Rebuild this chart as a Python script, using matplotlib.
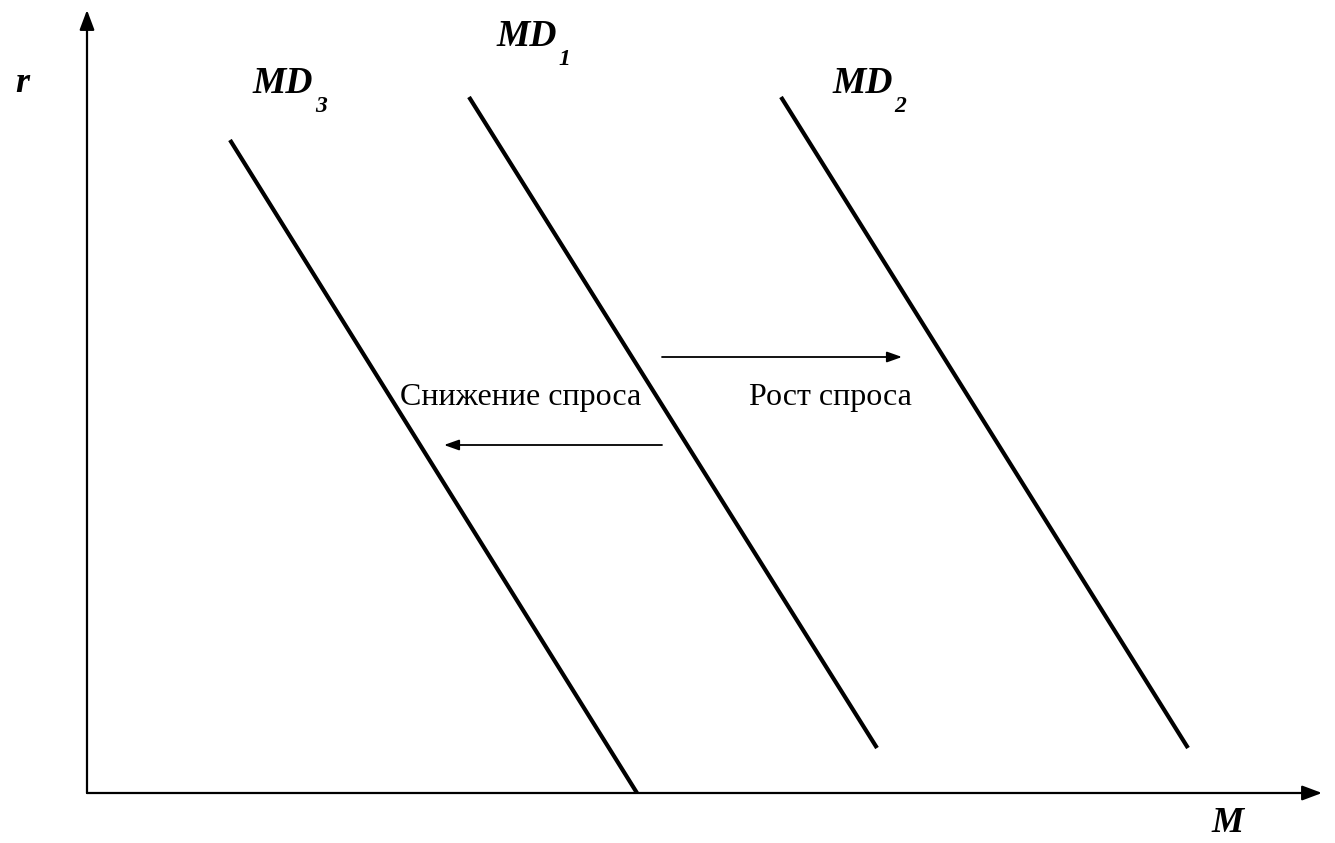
"""Money demand shift diagram: MD1 with MD2 (demand rises) and MD3 (demand falls)."""

import matplotlib

matplotlib.use("Agg")
import matplotlib.pyplot as plt  # noqa: E402

# Canvas in pixel units (y grows downward, like the source picture).
W, H = 1335, 843

# Demand curves: top end and bottom end of each straight line.
curve_names = ["3", "1", "2"]
curve_x0 = [230, 469, 781]
curve_y0 = [140, 97, 97]
curve_x1 = [637, 877, 1188]
curve_y1 = [793, 748, 748]
label_x = [253, 497, 832]
label_y = [93, 46, 93]

# Axes origin and arrow tips.
origin = (87, 793)
y_tip = (87, 10)
x_tip = (1322, 793)

# Shift arrows (start -> end) and their captions.
shift_start = [(662, 357), (662, 445)]
shift_end = [(902, 357), (444, 445)]
shift_text = ["Рост спроса", "Снижение спроса"]
shift_text_xy = [(830, 397), (521, 397)]

SERIF = ["Liberation Serif", "DejaVu Serif"]


def arrow(ax, start, end, lw, hl, hw):
    ax.annotate("", xy=end, xytext=start,
                arrowprops=dict(arrowstyle=f"-|>,head_length={hl},head_width={hw}",
                                lw=lw, color="black", mutation_scale=1,
                                shrinkA=0, shrinkB=0))


def main() -> None:
    fig = plt.figure(figsize=(W / 100, H / 100), dpi=100)
    ax = fig.add_axes([0, 0, 1, 1])
    ax.set_xlim(0, W)
    ax.set_ylim(H, 0)
    ax.axis("off")

    # axes
    arrow(ax, origin, y_tip, 1.6, 12, 4.5)
    arrow(ax, origin, x_tip, 1.6, 12, 4.5)
    ax.text(22, 92, "r", fontsize=26, family=SERIF, fontweight="bold",
            fontstyle="italic", ha="center", va="baseline")
    ax.text(1228, 832, "M", fontsize=26, family=SERIF, fontweight="bold",
            fontstyle="italic", ha="center", va="baseline")

    # demand curves + labels with subscripts
    for n, x0, y0, x1, y1, lx, ly in zip(curve_names, curve_x0, curve_y0,
                                         curve_x1, curve_y1, label_x, label_y):
        ax.plot([x0, x1], [y0, y1], color="black", lw=3.0, solid_capstyle="butt")
        t = ax.text(lx, ly, "MD", fontsize=27, family=SERIF, fontweight="bold",
                    fontstyle="italic", ha="left", va="baseline")
        ax.annotate(n, xy=(1, 0), xycoords=t, xytext=(1, -8),
                    textcoords="offset points", fontsize=17, family=SERIF,
                    fontweight="bold", fontstyle="italic", ha="left", va="baseline")

    # shift arrows
    for s, e in zip(shift_start, shift_end):
        arrow(ax, s, e, 1.3, 9, 3.2)
    for txt, (tx, ty) in zip(shift_text, shift_text_xy):
        ax.text(tx, ty, txt, fontsize=23, family=SERIF, ha="center", va="center")

    fig.savefig("out.png", dpi=100, facecolor="white")
    plt.close(fig)


if __name__ == "__main__":
    main()
